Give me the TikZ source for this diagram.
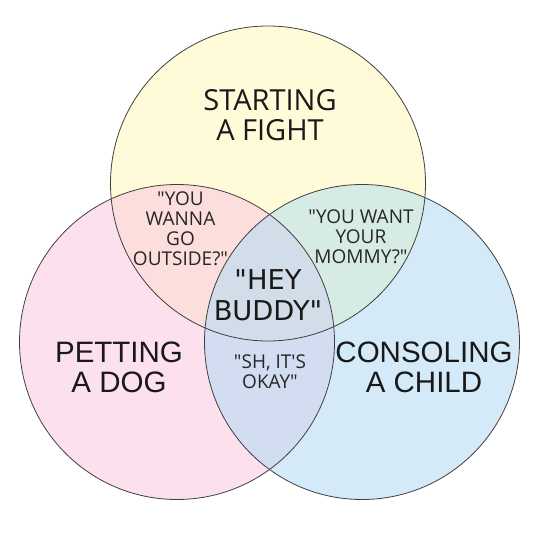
\documentclass[tikz,border=0pt]{standalone}
\usepackage{fontspec}
\setmainfont{Open Sans}
\newfontfamily\arialfont{Liberation Sans}
\newfontfamily\buddyfont{DejaVu Sans}
\definecolor{fightyellow}{RGB}{255,250,216}
\definecolor{dogpink}{RGB}{253,224,238}
\definecolor{childblue}{RGB}{213,234,248}
\definecolor{fightdog}{RGB}{252,222,221}
\definecolor{fightchild}{RGB}{214,235,228}
\definecolor{dogchild}{RGB}{210,221,242}
\definecolor{allthree}{RGB}{210,221,234}
\newcommand{\qq}{\textquotedbl}
\tikzset{
  rim/.style={draw=black!75, line width=0.8pt},
  bigtext/.style={align=center, anchor=base, text=black!90},
  smalltext/.style={align=center, anchor=base, text=black!85, font=\fontsize{19}{19.7}\selectfont}
}
\begin{document}
\begin{tikzpicture}[x=1pt,y=-1pt]
\useasboundingbox (0,0) rectangle (540,540);
\coordinate (fight) at (268,183.5);
\coordinate (dog) at (177,342);
\coordinate (child) at (362,342);
%single circles
\fill[fightyellow] (fight) circle (157.5pt);
\fill[dogpink] (dog) circle (157.5pt);
\fill[childblue] (child) circle (157.5pt);
%overlaps
\begin{scope} \clip (fight) circle (157.5pt); \fill[fightdog] (dog) circle (157.5pt); \end{scope}
\begin{scope} \clip (fight) circle (157.5pt); \fill[fightchild] (child) circle (157.5pt); \end{scope}
\begin{scope} \clip (dog) circle (157.5pt); \fill[dogchild] (child) circle (157.5pt); \end{scope}
\begin{scope} \clip (fight) circle (157.5pt); \clip (dog) circle (157.5pt); \fill[allthree] (child) circle (157.5pt); \end{scope}
\draw[rim] (fight) circle (157.5pt);
\draw[rim] (dog) circle (157.5pt);
\draw[rim] (child) circle (157.5pt);
%labels (anchor base = last line)
\node[bigtext, font=\fontsize{29}{30}\selectfont] (fighttext) at (270,141) {STARTING\\A FIGHT};
\node[bigtext, font=\arialfont\fontsize{29.5}{30}\selectfont] (dogtext) at (119,392.7) {PETTING\\A DOG};
\node[bigtext, font=\arialfont\fontsize{29.5}{30}\selectfont] (childtext) at (424,392.7) {CONSOLING\\A CHILD};
\node[bigtext, font=\buddyfont\fontsize{27.3}{30.5}\selectfont] (buddy) at (268,320) {\qq HEY\\BUDDY\qq};
\node[smalltext] (outside) at (180.5,265) {\qq YOU\\WANNA\\GO\\OUTSIDE?\qq};
\node[smalltext] (mommy) at (361,263) {\qq YOU WANT\\YOUR\\MOMMY?\qq};
\node[smalltext] (okay) at (270,388) {\qq SH, IT\textquotesingle S\\OKAY\qq};
\end{tikzpicture}
\end{document}
